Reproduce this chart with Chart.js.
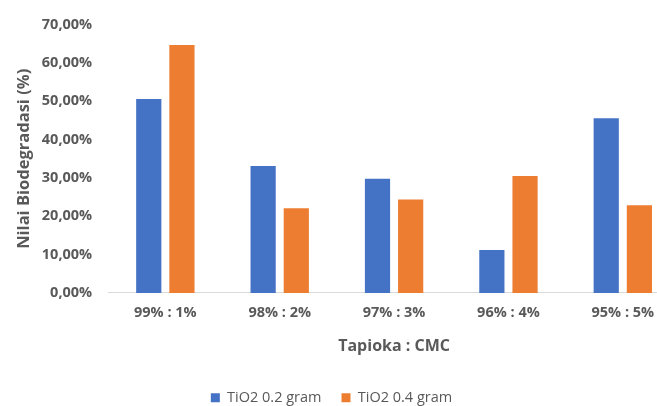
<!DOCTYPE html>
<html>
<head>
<meta charset="utf-8">
<script src="https://cdn.jsdelivr.net/npm/chart.js@4.4.1/dist/chart.umd.min.js"></script>
<style>
  html, body { margin: 0; padding: 0; background: #fff; overflow: hidden; }
  #wrap { width: 657px; height: 406px; overflow: hidden; }
  #box { width: 680px; height: 406px; }
</style>
</head>
<body>
<div id="wrap"><div id="box"><canvas id="bioChart"></canvas></div></div>
<script>
//Data
const categories = ['99% : 1%', '98% : 2%', '97% : 3%', '96% : 4%', '95% : 5%']
const tio2Low = [50.6, 33.1, 29.8, 11.2, 45.6]
const tio2High = [64.7, 22.1, 24.4, 30.5, 22.9]
const yTicks = [0, 10, 20, 30, 40, 50, 60, 70]

const textGray = '#595959'
const font = 'Open Sans'

const ctx = document.getElementById('bioChart').getContext('2d')

//negative left padding keeps the legend centred on the visible part of the page
const bioChart = new Chart(ctx, {
  type: 'bar',
  data: {
    labels: categories,
    datasets: [{
      label: 'TiO2 0.2 gram',
      data: tio2Low,
      backgroundColor: '#4472C4',
      barPercentage: 0.76,
      categoryPercentage: 0.58
    }, {
      label: 'TiO2 0.4 gram',
      data: tio2High,
      backgroundColor: '#ED7D31',
      barPercentage: 0.76,
      categoryPercentage: 0.58
    }]
  },
  options: {
    responsive: true,
    maintainAspectRatio: false,
    animation: false,
    layout: {
      padding: { top: 9, left: -17, right: 0, bottom: -9 }
    },
    scales: {
      x: {
        grid: { display: false },
        border: { color: '#D9D9D9', width: 1 },
        ticks: {
          color: textGray,
          font: { family: font, size: 14.5, weight: 'bold' },
          padding: 3
        },
        title: {
          display: true,
          text: 'Tapioka : CMC',
          color: textGray,
          font: { family: font, size: 16, weight: 'bold' },
          padding: { top: 13, bottom: 14 }
        }
      },
      y: {
        min: 0,
        max: 70,
        afterBuildTicks: (axis) => {
          axis.ticks = yTicks.map(v => ({ value: v }))
        },
        grid: { display: false, drawTicks: false },
        border: { display: false },
        ticks: {
          color: textGray,
          font: { family: font, size: 14.5, weight: 'bold' },
          padding: 16,
          callback: (v) => v.toFixed(2).replace('.', ',') + '%'
        },
        title: {
          display: true,
          text: 'Nilai Biodegradasi (%)',
          color: textGray,
          font: { family: font, size: 16.5, weight: 'bold' },
          padding: { top: 31, bottom: -8 }
        }
      }
    },
    plugins: {
      legend: {
        position: 'bottom',
        labels: {
          color: textGray,
          font: { family: font, size: 14.5 },
          boxWidth: 9,
          boxHeight: 9,
          padding: 20
        }
      },
      tooltip: { enabled: false }
    }
  }
})
</script>
</body>
</html>
